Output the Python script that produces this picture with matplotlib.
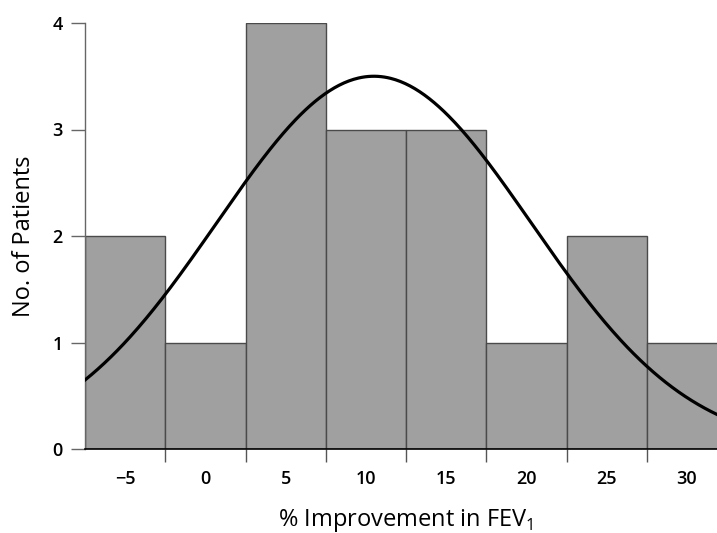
import numpy as np
import matplotlib
matplotlib.use("Agg")
import matplotlib.pyplot as plt

# Data
bin_centers = [-5, 0, 5, 10, 15, 20, 25, 30]
counts = [2, 1, 4, 3, 3, 1, 2, 1]
bin_width = 5
# fitted normal curve parameters
curve_mean = 10.5
curve_sd = 9.8
curve_peak = 3.5
y_ticks = [0, 1, 2, 3, 4]
x_labels = ["\u22125", "0", "5", "10", "15", "20", "25", "30"]

plt.rcParams['font.family'] = ['Open Sans', 'DejaVu Sans']

fig = plt.figure(figsize=(7.17, 5.33), dpi=100)
left = 85 / 717
bottom = 1 - 449 / 533
top = 1 - 23 / 533
x0, x1 = -7.5, 32.5
px_per_unit = 16.05
width = (x1 - x0) * px_per_unit / 717
ax = fig.add_axes([left, bottom, width, top - bottom])

ax.bar(bin_centers, counts, width=bin_width, color='#a0a0a0',
       edgecolor='#4a4a4a', linewidth=1.0, zorder=2)

xs = np.linspace(x0, x1, 400)
ys = curve_peak * np.exp(-(xs - curve_mean) ** 2 / (2 * curve_sd ** 2))
ax.plot(xs, ys, color='black', linewidth=2.3, zorder=3)

ax.set_xlim(x0, x1)
ax.set_ylim(0, 4)

for s in ['top', 'right']:
    ax.spines[s].set_visible(False)
ax.spines['left'].set_color('#666666')
ax.spines['left'].set_linewidth(1.0)
ax.spines['bottom'].set_color('black')
ax.spines['bottom'].set_linewidth(1.2)
ax.spines['bottom'].set_zorder(4)

ax.set_yticks(y_ticks)
ax.set_yticklabels([str(v) for v in y_ticks])
ax.tick_params(axis='y', length=10, width=1, color='#666666', pad=6,
               labelsize=13)

ax.set_xticks(bin_centers)
ax.set_xticklabels(x_labels)
edges = [c + bin_width / 2 for c in bin_centers[:-1]]
ax.set_xticks(edges, minor=True)
ax.tick_params(axis='x', which='major', length=0, pad=15, labelsize=13)
ax.tick_params(axis='x', which='minor', length=9, width=1, color='#555555')

for lab in ax.get_xticklabels() + ax.get_yticklabels():
    lab.set_fontweight('semibold')

ax.set_xlabel('% Improvement in FEV$_\\mathregular{1}$', fontsize=17, labelpad=14)
ax.set_ylabel('No. of Patients', fontsize=17, labelpad=12)

fig.savefig('out.png', dpi=100)
